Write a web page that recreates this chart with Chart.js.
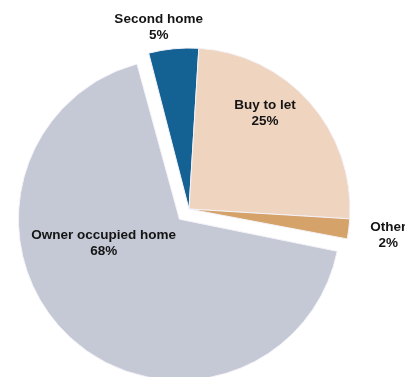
<!DOCTYPE html>
<html>
<head>
<meta charset="utf-8">
<script src="https://cdn.jsdelivr.net/npm/chart.js@4"></script>
<style>
  html, body { margin: 0; padding: 0; background: #fff; }
  #wrap { width: 405px; height: 377px; }
</style>
</head>
<body>
<div id="wrap"><canvas id="pie-chart"></canvas></div>
<script>
// Mortgage lending by purpose (% share)
const categories = ['Second home', 'Buy to let', 'Other', 'Owner occupied home'];
const shares = [5, 25, 2, 68];
const sliceColours = ['#146194', '#efd4c0', '#d5a26a', '#c5c8d5'];

// where each label sits: angle (deg, clockwise from top) and distance from the pie centre
const labelPlacement = [
    { angle: -9.5, dist: 184 },
    { angle: 38.5, dist: 122 },
    { angle: 97.5, dist: 201 },
    { angle: 248, dist: 92 }
];

// Chart.js moves an exploded slice by offset/4 and also grows its radius by the same
// amount; pull the radius back so the exploded slice keeps the pie's size
const keepRadius = {
    id: 'keepRadius',
    afterDatasetsUpdate(chart) {
        chart.getDatasetMeta(0).data.forEach(arc => {
            const shift = (arc.options.offset || 0) / 4;
            arc.outerRadius -= shift;
        });
    }
};

const sliceLabels = {
    id: 'sliceLabels',
    afterDatasetsDraw(chart) {
        const ctx = chart.ctx;
        const arcs = chart.getDatasetMeta(0).data;
        ctx.save();
        ctx.font = 'bold 13.5px "Liberation Sans", Arial, sans-serif';
        ctx.fillStyle = '#141414';
        ctx.textAlign = 'center';
        ctx.textBaseline = 'middle';
        arcs.forEach((arc, i) => {
            const p = labelPlacement[i];
            const a = p.angle * Math.PI / 180;
            const x = arc.x + Math.sin(a) * p.dist;
            const y = arc.y - Math.cos(a) * p.dist;
            ctx.fillText(categories[i], x, y - 8);
            ctx.fillText(shares[i] + '%', x, y + 8);
        });
        ctx.restore();
    }
};

document.addEventListener('DOMContentLoaded', function () {
    const ctx = document.getElementById('pie-chart').getContext('2d');
    new Chart(ctx, {
        type: 'pie',
        data: {
            labels: categories,
            datasets: [{
                data: shares,
                backgroundColor: sliceColours,
                borderColor: '#f4f2f8',
                borderWidth: 1,
                offset: [0, 0, 0, 56],
                clip: false
            }]
        },
        options: {
            responsive: true,
            maintainAspectRatio: false,
            animation: false,
            rotation: -14.5,
            radius: 161,
            layout: {
                padding: { left: 0, right: 27, top: 41, bottom: 0 }
            },
            plugins: {
                legend: { display: false },
                tooltip: { enabled: false }
            }
        },
        plugins: [keepRadius, sliceLabels]
    });
});
</script>
</body>
</html>
